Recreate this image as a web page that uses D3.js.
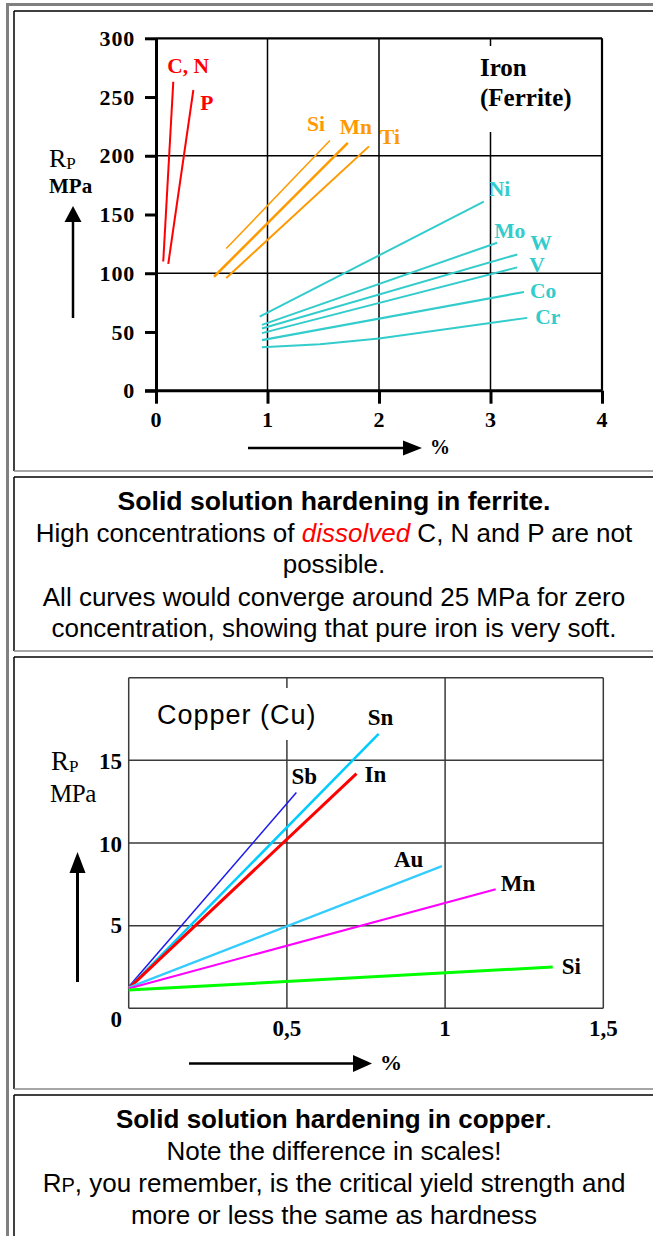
<!DOCTYPE html>
<html lang="en">
<head>
<meta charset="utf-8">
<title>Solid solution hardening</title>
<script src="https://d3js.org/d3.v7.min.js"></script>
<style>
  body { margin: 0; background: #fff; }
  svg { display: block; }
  .serif { font-family: "Liberation Serif", "Times New Roman", serif; }
  .sans { font-family: "Liberation Sans", Arial, sans-serif; }
</style>
</head>
<body>
<script>
// ---- iron (ferrite) data ----
const ironElements = ["C, N", "P", "Si", "Mn", "Ti", "Ni", "Mo", "W", "V", "Co", "Cr"];
const ironPercent = [[0.065, 0.155], [0.11, 0.335], [0.63, 1.56], [0.52, 1.72], [0.63, 1.91],
  [0.93, 2.94], [0.95, 3.06], [0.95, 3.24], [0.95, 3.24], [0.95, 3.30], [0.95, 1.47, 2.0, 3.33]];
const ironRp = [[110, 263], [108, 256], [121, 213], [97, 211], [96, 208],
  [63, 161], [56, 126], [53, 116], [49, 105], [43, 84], [37, 39.5, 44.5, 62]];
const ironXTicks = [0, 1, 2, 3, 4];
const ironYTicks = [0, 50, 100, 150, 200, 250, 300];

// ---- copper data ----
const cuElements = ["Sb", "Sn", "In", "Au", "Mn", "Si"];
const cuPercent = [[0, 0.53], [0, 0.79], [0, 0.72], [0, 0.99], [0, 1.16], [0, 1.34]];
const cuRp = [[1.3, 13.05], [1.2, 16.6], [1.2, 14.2], [1.25, 8.6], [1.2, 7.2], [1.1, 2.5]];
const cuXTicks = [0.5, 1, 1.5];
const cuXLabels = ["0,5", "1", "1,5"];
const cuYTicks = [0, 5, 10, 15];

// styles / label offsets (pixels from line end)
const ironColor = ["#ff0000", "#ff0000", "#ff9900", "#ff9900", "#ff9900",
  "#33cccc", "#33cccc", "#33cccc", "#33cccc", "#33cccc", "#33cccc"];
const ironWidth = [2, 2, 1.5, 2.5, 2, 2, 2, 2, 2, 2.2, 2];
const ironLabelOff = [[-6, -9], [7, 20], [-23, -9], [-8, -9], [11, -2], [5, -6], [-3, -5], [13, -4], [12, 5], [6, 6], [8, 6]];
const cuColor = ["#1a1aee", "#00ccff", "#ff0000", "#33ccff", "#ff00ff", "#00ff00"];
const cuWidth = [1.5, 2.5, 3, 2.2, 2, 3];
const cuLabelOff = [[-5, -9], [-11, -9], [8, 8], [-48, 1], [5, 2], [9, 7]];

const W = 653, H = 1236;
const svg = d3.select("body").append("svg").attr("width", W).attr("height", H);

// ---- table frame ----
svg.append("rect").attr("x", 6).attr("y", 3).attr("width", 3).attr("height", H).attr("fill", "#808080");
svg.append("rect").attr("x", 6).attr("y", 3).attr("width", W).attr("height", 3).attr("fill", "#808080");
const cells = [[11, 471], [477, 651], [657, 1089], [1095, 1300]];
cells.forEach(c => {
  svg.append("line").attr("x1", 14).attr("x2", W).attr("y1", c[0]).attr("y2", c[0]).attr("stroke", "#000").attr("stroke-width", 1.5);
  svg.append("line").attr("x1", 14).attr("x2", 14).attr("y1", c[0]).attr("y2", c[1]).attr("stroke", "#000").attr("stroke-width", 1.5);
  svg.append("line").attr("x1", 14).attr("x2", W).attr("y1", c[1]).attr("y2", c[1]).attr("stroke", "#888").attr("stroke-width", 1.5);
});

function arrowUp(g, x, yBottom, yTop, headLen, headW, sw) {
  g.append("line").attr("x1", x).attr("x2", x).attr("y1", yBottom).attr("y2", yTop + headLen).attr("stroke", "#000").attr("stroke-width", sw);
  g.append("path").attr("d", `M${x - headW},${yTop + headLen}L${x + headW},${yTop + headLen}L${x},${yTop}Z`).attr("fill", "#000");
}
function arrowRight(g, xLeft, xRight, y, headLen, headW, sw) {
  g.append("line").attr("x1", xLeft).attr("x2", xRight - headLen).attr("y1", y).attr("y2", y).attr("stroke", "#000").attr("stroke-width", sw);
  g.append("path").attr("d", `M${xRight - headLen},${y - headW}L${xRight - headLen},${y + headW}L${xRight},${y}Z`).attr("fill", "#000");
}

// ================= IRON CHART =================
const ix = d3.scaleLinear().domain([0, 4]).range([156, 602]);
const iy = d3.scaleLinear().domain([0, 300]).range([390.7, 38.3]);
const iron = svg.append("g");

// grid
iron.selectAll(".vg").data([1, 2, 3, 4]).join("line")
  .attr("x1", d => ix(d)).attr("x2", d => ix(d)).attr("y1", iy(300)).attr("y2", iy(0))
  .attr("stroke", "#000").attr("stroke-width", d => d === 4 ? 2.2 : 1.5);
iron.selectAll(".hg").data([100, 200, 300]).join("line")
  .attr("x1", ix(0)).attr("x2", ix(4)).attr("y1", d => iy(d)).attr("y2", d => iy(d))
  .attr("stroke", "#000").attr("stroke-width", d => d === 300 ? 2.2 : 1.5);

// white box behind title (breaks grid line)
iron.append("rect").attr("x", 478).attr("y", 46).attr("width", 102).attr("height", 86).attr("fill", "#fff");
iron.append("text").attr("class", "serif").attr("x", 480).attr("y", 76)
  .attr("font-size", 25).attr("font-weight", "bold").text("Iron");
iron.append("text").attr("class", "serif").attr("x", 480).attr("y", 106)
  .attr("font-size", 25).attr("font-weight", "bold").text("(Ferrite)");

// axes
const iyAxis = iron.append("g").attr("transform", `translate(${ix(0)},0)`)
  .call(d3.axisLeft(iy).tickValues(ironYTicks).tickSize(11).tickSizeOuter(0).tickPadding(10).tickFormat(d3.format("d")));
const ixAxis = iron.append("g").attr("transform", `translate(0,${iy(0)})`)
  .call(d3.axisBottom(ix).tickValues(ironXTicks).tickSize(13).tickSizeOuter(0).tickPadding(8).tickFormat(d3.format("d")));
[iyAxis, ixAxis].forEach(a => {
  a.select(".domain").attr("stroke-width", 3);
  a.selectAll(".tick line").attr("stroke-width", 3);
  a.selectAll("text").attr("class", "serif").attr("font-size", 22).attr("font-weight", "bold")
    .attr("fill", "#000").attr("letter-spacing", 0.8);
});
ixAxis.select(".domain").attr("d", `M${ix(0) - 11},0H${ix(4)}`);

// lines
const ironLine = d3.line().x(d => ix(d[0])).y(d => iy(d[1]));
ironElements.forEach((el, i) => {
  const pts = ironPercent[i].map((p, k) => [p, ironRp[i][k]]);
  iron.append("path").attr("d", ironLine(pts)).attr("fill", "none")
    .attr("stroke", ironColor[i]).attr("stroke-width", ironWidth[i]);
  const end = pts[pts.length - 1];
  iron.append("text").attr("class", "serif")
    .attr("x", ix(end[0]) + ironLabelOff[i][0]).attr("y", iy(end[1]) + ironLabelOff[i][1])
    .attr("font-size", 21.5).attr("font-weight", "bold").attr("fill", ironColor[i]).text(el);
});

// axis titles
const rp1 = iron.append("text").attr("class", "serif").attr("x", 49).attr("y", 167).attr("font-size", 26);
rp1.append("tspan").text("R");
rp1.append("tspan").attr("font-size", 17).attr("dy", 2).text("P");
iron.append("text").attr("class", "serif").attr("x", 49).attr("y", 193)
  .attr("font-size", 21).attr("font-weight", "bold").text("MPa");
arrowUp(iron, 73, 318, 206, 16, 8.5, 2.5);
arrowRight(iron, 248, 422, 448, 19, 7.5, 2.5);
iron.append("text").attr("class", "serif").attr("x", 430).attr("y", 454)
  .attr("font-size", 20).attr("font-weight", "bold").text("%");

// ================= TEXT CELL 1 =================
const cx = 334;
const t1 = svg.append("g").attr("class", "sans").attr("text-anchor", "middle").attr("font-size", 26);
t1.append("text").attr("x", cx).attr("y", 510).attr("font-size", 26.6).attr("font-weight", "bold").text("Solid solution hardening in ferrite.");
const hl = t1.append("text").attr("x", cx).attr("y", 542);
hl.append("tspan").text("High concentrations of ");
hl.append("tspan").attr("fill", "#ff0000").attr("font-style", "italic").text("dissolved");
hl.append("tspan").text(" C, N and P are not");
t1.append("text").attr("x", cx).attr("y", 573).text("possible.");
t1.append("text").attr("x", cx).attr("y", 606).text("All curves would converge around 25 MPa for zero");
t1.append("text").attr("x", cx).attr("y", 637).text("concentration, showing that pure iron is very soft.");

// ================= COPPER CHART =================
const cxs = d3.scaleLinear().domain([0, 1.5]).range([128.7, 603.3]);
const cys = d3.scaleLinear().domain([0, 20]).range([1008.3, 677.7]);
const cu = svg.append("g");

cu.selectAll(".vg").data([0, 0.5, 1, 1.5]).join("line")
  .attr("x1", d => cxs(d)).attr("x2", d => cxs(d)).attr("y1", cys(20)).attr("y2", cys(0))
  .attr("stroke", "#3a3a3a").attr("stroke-width", 1.5);
cu.selectAll(".hg").data([0, 5, 10, 15, 20]).join("line")
  .attr("x1", cxs(0)).attr("x2", cxs(1.5)).attr("y1", d => cys(d)).attr("y2", d => cys(d))
  .attr("stroke", "#3a3a3a").attr("stroke-width", 1.5);

cu.append("rect").attr("x", 150).attr("y", 688).attr("width", 175).attr("height", 52).attr("fill", "#fff");
cu.append("text").attr("class", "sans").attr("x", 157).attr("y", 724)
  .attr("font-size", 27).attr("letter-spacing", 1).text("Copper (Cu)");

cu.selectAll(".yl").data(cuYTicks).join("text").attr("class", "serif")
  .attr("x", 122).attr("y", d => d === 0 ? cys(d) + 19 : cys(d) + (d === 5 ? 7 : 9))
  .attr("text-anchor", "end").attr("font-size", 23).attr("font-weight", "bold").text(d => d);
cu.selectAll(".xl").data(cuXTicks).join("text").attr("class", "serif")
  .attr("x", d => cxs(d)).attr("y", 1036)
  .attr("text-anchor", "middle").attr("font-size", 23).attr("font-weight", "bold").text((d, i) => cuXLabels[i]);

const cuLine = d3.line().x(d => cxs(d[0])).y(d => cys(d[1]));
cuElements.forEach((el, i) => {
  const pts = cuPercent[i].map((p, k) => [p, cuRp[i][k]]);
  cu.append("path").attr("d", cuLine(pts)).attr("fill", "none")
    .attr("stroke", cuColor[i]).attr("stroke-width", cuWidth[i]);
  const end = pts[pts.length - 1];
  cu.append("text").attr("class", "serif")
    .attr("x", cxs(end[0]) + cuLabelOff[i][0]).attr("y", cys(end[1]) + cuLabelOff[i][1])
    .attr("font-size", 23).attr("font-weight", "bold").attr("fill", "#000").text(el);
});

const rp2 = cu.append("text").attr("class", "serif").attr("x", 51).attr("y", 770).attr("font-size", 27);
rp2.append("tspan").text("R");
rp2.append("tspan").attr("font-size", 17).attr("dy", 2).text("P");
cu.append("text").attr("class", "serif").attr("x", 50).attr("y", 802)
  .attr("font-size", 25).attr("letter-spacing", -0.5).text("MPa");
arrowUp(cu, 77.5, 982, 852, 21, 8, 3);
arrowRight(cu, 189, 372, 1063.5, 19, 8.5, 2.5);
cu.append("text").attr("class", "serif").attr("x", 380).attr("y", 1070)
  .attr("font-size", 22).attr("font-weight", "bold").text("%");

// ================= TEXT CELL 2 =================
const t2 = svg.append("g").attr("class", "sans").attr("text-anchor", "middle").attr("font-size", 26);
const h2 = t2.append("text").attr("x", cx).attr("y", 1128);
h2.append("tspan").attr("font-weight", "bold").text("Solid solution hardening in copper");
h2.append("tspan").text(".");
t2.append("text").attr("x", cx).attr("y", 1160).text("Note the difference in scales!");
const r3 = t2.append("text").attr("x", cx).attr("y", 1192);
r3.append("tspan").text("R");
r3.append("tspan").attr("font-size", 20).text("P");
r3.append("tspan").text(", you remember, is the critical yield strength and");
t2.append("text").attr("x", cx).attr("y", 1224).text("more or less the same as hardness");
</script>
</body>
</html>
